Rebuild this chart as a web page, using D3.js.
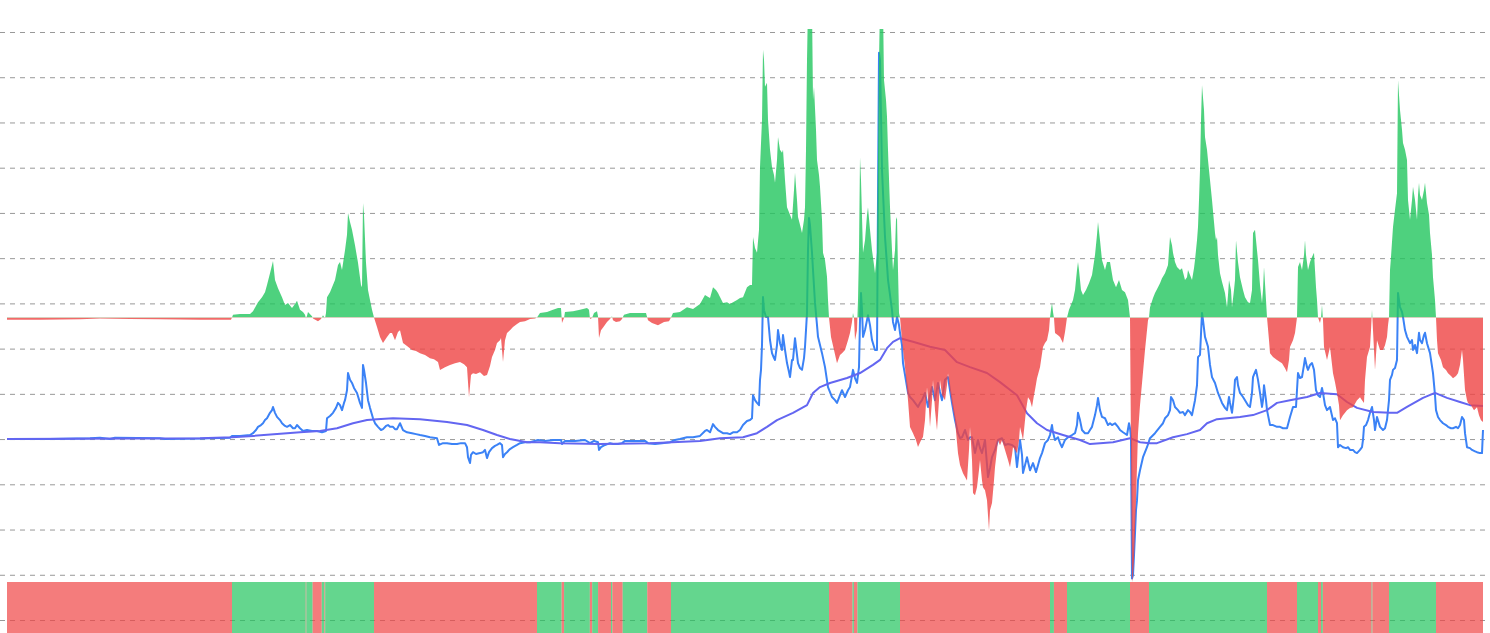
<!DOCTYPE html>
<html><head><meta charset="utf-8">
<script src="https://cdn.jsdelivr.net/npm/d3@7"></script>
<style>html,body{margin:0;padding:0;background:#fff;overflow:hidden}</style>
</head><body>
<svg id="chart" width="1490" height="633"></svg>
<script>
// time index (t) and oscillator value (grid units)
const oscillator = [
[7,-0.05],[40,-0.05],[80,-0.04],[100,-0.02],[130,-0.03],[160,-0.04],[200,-0.05],[231,-0.05],[232,0],[233,0.06],[240,0.08],[250,0.08],[253,0.14],[258,0.34],[262,0.45],[265,0.56],[267,0.72],[270,0.98],[273,1.25],[275,0.83],[278,0.65],[282,0.45],[285,0.28],[288,0.32],[292,0.21],[295,0.30],[297,0.37],[300,0.17],[303,0.12],[305,0.06],[306,-0.02],[307,0.04],[308,0.12],[312,0.03],[313,-0.02],[318,-0.08],[321,-0.03],[323,0.05],[325,-0.02],[326,0.1],[327,0.45],[330,0.56],[335,0.83],[338,1.16],[340,1.23],[342,1.05],[345,1.49],[347,1.83],[348,2.31],[350,2.11],[352,1.94],[355,1.60],[358,1.21],[361,0.72],[362,0.67],[363,2.53],[364,2.27],[366,1.21],[368,0.61],[370,0.39],[372,0.17],[374,0],
[377,-0.21],[380,-0.43],[383,-0.56],[387,-0.43],[390,-0.34],[392,-0.34],[395,-0.50],[398,-0.32],[400,-0.28],[403,-0.56],[407,-0.63],[412,-0.72],[416,-0.74],[420,-0.79],[425,-0.83],[430,-0.90],[434,-0.92],[438,-0.98],[440,-1.16],[445,-1.10],[450,-1.05],[455,-1.01],[460,-0.98],[464,-1.03],[467,-1.10],[469,-1.76],[471,-1.27],[473,-1.23],[476,-1.25],[480,-1.21],[484,-1.29],[487,-1.27],[490,-1.07],[492,-0.87],[495,-0.72],[497,-0.56],[500,-0.50],[501,-0.45],[503,-0.98],[505,-0.50],[507,-0.34],[510,-0.28],[513,-0.21],[517,-0.14],[520,-0.10],[525,-0.08],[530,-0.03],[535,-0.02],[537,0],
[540,0.10],[547,0.12],[553,0.17],[558,0.21],[561,0.21],[562,-0.12],[564,-0.01],[565,0.12],[573,0.14],[580,0.17],[587,0.21],[589,0.17],[590,-0.03],[592,-0.01],[594,0.10],[597,0.14],[598,0.03],[599,-0.45],[601,-0.28],[604,-0.19],[607,-0.10],[610,-0.03],[612,0.03],[613,-0.06],[616,-0.10],[620,-0.08],[622,-0.03],[624,0.06],[630,0.10],[640,0.10],[646,0.10],[648,-0.06],[652,-0.12],[658,-0.17],[664,-0.10],[669,-0.08],[671,0],
[673,0.10],[680,0.12],[687,0.23],[693,0.19],[700,0.30],[705,0.50],[707,0.47],[710,0.43],[713,0.67],[716,0.61],[718,0.54],[723,0.32],[727,0.34],[730,0.30],[733,0.34],[737,0.39],[740,0.43],[743,0.45],[747,0.67],[750,0.72],[752,0.72],[753,1.78],[755,1.54],[757,1.43],[759,1.94],[760,3.33],[762,4.37],[763,5.92],[764,5.70],[765,5.10],[767,5.19],[768,4.37],[770,3.71],[772,3.33],[774,3.15],[775,2.98],[777,3.48],[778,3.99],[780,3.71],[782,3.64],[783,3.71],[785,3.04],[787,2.44],[790,2.27],[792,2.16],[794,2.82],[795,3.20],[797,2.60],[798,2.22],[800,2.05],[802,1.87],[804,2.16],[805,2.44],[806,3.71],[807,5.70],[808,6.9],[810,6.9],[812,6.9],[813,4.81],[814,5.10],[816,4.15],[817,3.48],[819,3.15],[820,2.89],[822,2.16],[823,1.43],[825,1.27],[827,0.90],[828,0.39],[829,0],
[831,-0.43],[834,-0.72],[837,-1.01],[840,-0.83],[842,-0.79],[845,-0.72],[848,-0.50],[850,-0.34],[852,-0.10],[853,0.10],[854,-0.01],[855,-0.50],[857,-0.28],[858,0.39],[859,1.49],[860,3.55],[861,3.04],[863,1.43],[865,1.71],[867,2.27],[868,2.44],[870,1.94],[872,1.49],[874,1.16],[875,0.98],[877,1.43],[879,5.70],[880,6.9],[883,6.9],[884,5.25],[886,4.81],[887,4.44],[888,3.71],[890,2.44],[892,1.49],[893,1.05],[895,1.49],[896,2.16],[897,2.22],[898,1.05],[899,0.10],[900,0],
[902,-0.50],[905,-1.10],[908,-1.83],[910,-2.42],[913,-2.56],[916,-2.71],[918,-2.86],[921,-2.71],[923,-2.64],[925,-2.27],[927,-1.54],[929,-2.05],[930,-2.42],[932,-1.83],[933,-1.38],[935,-2.05],[937,-2.49],[939,-1.83],[940,-1.38],[942,-1.71],[945,-1.83],[947,-1.49],[948,-1.23],[950,-1.60],[952,-1.89],[955,-2.27],[958,-3.00],[960,-3.26],[963,-3.44],[967,-3.60],[969,-2.93],[970,-2.42],[972,-3.15],[973,-3.88],[975,-3.93],[977,-3.75],[979,-3.37],[980,-3.15],[982,-3.60],[983,-3.75],[985,-3.82],[987,-4.04],[989,-4.70],[990,-4.26],[992,-4.10],[994,-3.60],[995,-3.31],[997,-2.93],[998,-2.71],[1000,-2.82],[1002,-2.71],[1005,-2.93],[1008,-3.15],[1010,-3.31],[1012,-3.04],[1013,-2.86],[1015,-2.93],[1017,-3.00],[1019,-2.71],[1020,-2.42],[1022,-2.60],[1023,-2.71],[1025,-2.27],[1026,-2.05],[1028,-1.76],[1030,-1.83],[1032,-1.98],[1034,-1.71],[1035,-1.60],[1037,-1.34],[1040,-1.10],[1043,-0.65],[1045,-0.56],[1047,-0.50],[1049,-0.28],[1050,0],
[1051,0.17],[1052,0.32],[1053,0.12],[1054,-0.01],[1055,-0.34],[1058,-0.39],[1060,-0.43],[1063,-0.56],[1065,-0.32],[1067,0],
[1069,0.17],[1070,0.23],[1073,0.39],[1075,0.61],[1077,1.05],[1078,1.23],[1079,1.05],[1081,0.61],[1083,0.50],[1086,0.61],[1089,0.76],[1092,0.94],[1095,1.38],[1097,1.83],[1098,2.11],[1100,1.71],[1102,1.27],[1105,1.05],[1107,1.23],[1110,1.23],[1113,0.83],[1116,0.67],[1119,0.83],[1122,0.61],[1125,0.56],[1128,0.39],[1130,0],
[1132,-5.85],[1133,-5.70],[1134,-5.36],[1135,-4.70],[1136,-4.04],[1138,-2.56],[1140,-1.94],[1142,-1.45],[1145,-0.72],[1147,-0.28],[1148,-0.06],[1149,0],
[1150,0.23],[1153,0.43],[1155,0.54],[1158,0.67],[1160,0.76],[1162,0.87],[1165,0.98],[1168,1.16],[1170,1.78],[1172,1.60],[1173,1.43],[1175,1.23],[1177,1.12],[1180,1.05],[1182,1.09],[1185,0.83],[1187,0.89],[1188,1.05],[1190,0.94],[1192,0.83],[1194,1.09],[1195,1.27],[1197,1.71],[1198,2.00],[1199,2.60],[1200,3.26],[1201,4.37],[1202,5.14],[1204,4.59],[1205,3.99],[1207,3.71],[1208,3.48],[1210,3.04],[1212,2.60],[1214,2.11],[1215,1.87],[1216,1.71],[1217,1.78],[1218,1.38],[1220,0.98],[1222,0.79],[1225,0.54],[1227,0.23],[1228,0.50],[1229,0.83],[1231,0.61],[1232,0.23],[1234,0.61],[1235,0.83],[1236,1.71],[1238,1.23],[1240,0.89],[1243,0.61],[1245,0.45],[1248,0.34],[1250,0.32],[1252,0.61],[1253,1.87],[1255,1.94],[1257,1.49],[1258,1.27],[1260,0.72],[1262,0.32],[1263,0.61],[1264,1.12],[1266,0.39],[1267,0],
[1269,-0.50],[1270,-0.79],[1273,-0.87],[1277,-0.94],[1280,-0.98],[1282,-1.01],[1285,-1.12],[1287,-1.21],[1289,-0.94],[1290,-0.65],[1293,-0.50],[1295,-0.34],[1297,0],
[1298,1.12],[1300,1.23],[1302,1.05],[1304,1.38],[1305,1.71],[1306,1.38],[1308,1.05],[1310,1.23],[1312,1.34],[1314,1.43],[1315,1.05],[1316,0.67],[1317,0.39],[1318,0],
[1320,-0.12],[1321,-0.01],[1322,0.28],[1323,-0.06],[1324,-0.65],[1327,-0.94],[1330,-0.65],[1333,-1.23],[1335,-1.43],[1337,-1.67],[1339,-1.94],[1340,-2.27],[1343,-2.16],[1347,-2.05],[1350,-2.00],[1353,-1.98],[1357,-1.83],[1360,-1.76],[1362,-1.83],[1364,-1.89],[1365,-1.38],[1367,-0.87],[1370,-0.65],[1371,-0.28],[1372,0.17],[1373,-0.28],[1375,-1.16],[1376,-0.83],[1377,-0.50],[1380,-0.72],[1383,-0.72],[1385,-0.61],[1387,-0.43],[1388,-0.17],[1389,0],
[1390,1.05],[1391,1.34],[1393,2.00],[1395,2.38],[1397,2.75],[1398,5.25],[1399,4.92],[1400,4.59],[1402,4.15],[1403,3.86],[1405,3.71],[1407,3.48],[1408,2.60],[1410,2.16],[1412,2.60],[1413,2.89],[1415,2.60],[1417,2.16],[1418,2.71],[1419,2.98],[1420,2.71],[1422,2.60],[1424,2.82],[1425,2.98],[1427,2.53],[1429,2.27],[1430,1.87],[1432,1.38],[1433,0.89],[1435,0.39],[1436,0],
[1437,-0.50],[1438,-0.79],[1441,-0.94],[1443,-1.10],[1446,-1.16],[1448,-1.23],[1451,-1.29],[1453,-1.34],[1456,-1.29],[1458,-1.23],[1460,-1.05],[1462,-0.72],[1463,-0.94],[1465,-1.60],[1467,-1.83],[1468,-1.89],[1471,-1.94],[1474,-2.05],[1477,-1.98],[1479,-2.16],[1481,-2.27],[1483,-2.31]
];

// price line (grid units on the right-hand scale)
const price = [
[7,0],[50,0],[90,0.02],[100,0.03],[110,0],[115,0.03],[160,0.02],[165,0],[200,0.01],[230,0.03],[232,0.07],[240,0.07],[250,0.09],[253,0.13],[256,0.20],[258,0.27],[261,0.31],[263,0.35],[265,0.42],[267,0.46],[270,0.58],[272,0.64],[273,0.71],[275,0.58],[277,0.49],[280,0.42],[282,0.35],[285,0.29],[287,0.27],[290,0.31],[293,0.24],[295,0.24],[297,0.31],[300,0.24],[303,0.18],[307,0.20],[312,0.18],[317,0.18],[322,0.15],[326,0.18],[327,0.46],[330,0.51],[333,0.58],[336,0.69],[338,0.80],[340,0.75],[342,0.64],[344,0.80],[345,0.86],[347,1.08],[348,1.46],[350,1.31],[352,1.24],[354,1.13],[357,1.02],[360,0.80],[362,0.69],[363,1.64],[364,1.53],[366,1.24],[368,0.86],[370,0.69],[373,0.46],[375,0.35],[378,0.27],[381,0.20],[383,0.22],[386,0.29],[388,0.31],[390,0.27],[393,0.27],[395,0.22],[397,0.22],[400,0.35],[403,0.20],[407,0.15],[412,0.13],[416,0.11],[420,0.09],[425,0.07],[430,0.04],[437,0.02],[439,-0.13],[443,-0.09],[447,-0.09],[452,-0.11],[457,-0.11],[461,-0.09],[465,-0.09],[467,-0.18],[468,-0.40],[470,-0.53],[471,-0.35],[473,-0.29],[476,-0.33],[480,-0.31],[483,-0.29],[485,-0.24],[487,-0.42],[489,-0.29],[492,-0.20],[495,-0.15],[497,-0.13],[500,-0.09],[502,-0.13],[503,-0.40],[505,-0.33],[507,-0.29],[510,-0.22],[513,-0.18],[517,-0.13],[520,-0.09],[525,-0.07],[530,-0.07],[538,-0.02],[545,-0.04],[553,-0.02],[561,-0.02],[562,-0.11],[565,-0.04],[575,-0.04],[585,-0.02],[590,-0.09],[594,-0.04],[598,-0.07],[599,-0.24],[601,-0.18],[605,-0.13],[610,-0.09],[613,-0.11],[618,-0.11],[622,-0.09],[625,-0.04],[635,-0.04],[645,-0.04],[648,-0.09],[655,-0.11],[662,-0.09],[670,-0.07],[675,-0.02],[680,0],[687,0.04],[693,0.04],[700,0.07],[705,0.18],[707,0.20],[710,0.15],[713,0.33],[715,0.27],[718,0.20],[723,0.13],[727,0.13],[730,0.11],[733,0.15],[737,0.15],[740,0.20],[743,0.31],[747,0.40],[750,0.42],[752,0.46],[753,0.97],[755,0.86],[757,0.80],[759,0.75],[760,1.31],[761,1.53],[762,2.08],[763,3.14],[764,2.85],[766,2.70],[768,2.70],[770,2.19],[772,1.90],[774,1.79],[775,1.75],[777,2.08],[778,2.41],[780,2.12],[782,1.97],[783,2.30],[785,1.97],[787,1.68],[789,1.48],[790,1.37],[792,1.75],[793,1.75],[795,2.23],[797,1.86],[798,1.68],[800,1.57],[802,1.53],[804,1.79],[805,2.04],[806,2.41],[807,2.79],[808,4.18],[809,4.89],[810,4.73],[812,4.12],[813,3.74],[815,3.01],[817,2.52],[818,2.26],[820,2.08],[822,1.90],[825,1.59],[828,1.15],[830,1.04],[832,0.93],[835,0.86],[837,0.80],[840,0.97],[842,1.08],[845,0.93],[848,1.08],[850,1.15],[853,1.53],[855,1.35],[857,1.24],[859,1.59],[860,2.63],[861,3.23],[862,2.85],[863,2.26],[865,2.41],[867,2.63],[868,2.74],[870,2.52],[872,2.19],[874,2.04],[875,1.97],[877,1.97],[878,5.29],[879,8.54],[880,8.38],[882,5.95],[884,4.96],[885,4.47],[887,3.85],[888,3.52],[890,3.19],[892,2.85],[893,2.59],[895,2.41],[897,2.70],[899,2.52],[900,2.35],[902,2.08],[903,1.68],[905,1.42],[908,1.02],[910,0.93],[913,0.86],[915,0.80],[918,0.71],[920,0.80],[922,0.86],[925,1.02],[928,0.71],[930,0.97],[932,1.15],[935,0.86],[938,1.24],[940,1.04],[942,0.86],[945,1.31],[948,1.37],[950,1.08],[952,0.80],[955,0.42],[958,0.13],[960,0.02],[962,0.04],[965,0.20],[968,-0.02],[970,0.04],[972,0.04],[975,-0.31],[978,-0.02],[980,-0.20],[982,-0.31],[985,-0.02],[988,-0.84],[990,-0.64],[992,-0.40],[995,-0.24],[998,-0.02],[1002,0.02],[1005,-0.13],[1008,-0.11],[1012,-0.13],[1015,-0.18],[1017,-0.62],[1020,-0.02],[1022,-0.35],[1023,-0.75],[1025,-0.58],[1027,-0.40],[1030,-0.69],[1033,-0.53],[1036,-0.73],[1038,-0.58],[1040,-0.42],[1042,-0.31],[1045,-0.09],[1048,-0.02],[1050,0.09],[1052,0.31],[1053,0.15],[1055,-0.02],[1058,0.04],[1060,-0.09],[1062,-0.18],[1065,-0.02],[1068,0.04],[1072,0.09],[1075,0.13],[1077,0.31],[1078,0.58],[1080,0.42],[1082,0.20],[1085,0.13],[1088,0.13],[1090,0.20],[1092,0.27],[1095,0.53],[1097,0.75],[1098,0.91],[1100,0.64],[1102,0.49],[1105,0.46],[1108,0.31],[1110,0.35],[1112,0.31],[1115,0.35],[1118,0.27],[1120,0.20],[1123,0.15],[1127,0.09],[1129,0.35],[1130,0.24],[1131,0.04],[1132,-3.08],[1133,-3.01],[1134,-2.57],[1135,-2.08],[1136,-1.57],[1137,-1.35],[1138,-0.91],[1140,-0.69],[1143,-0.40],[1147,-0.18],[1150,0.02],[1155,0.13],[1160,0.27],[1163,0.35],[1165,0.46],[1168,0.53],[1170,0.64],[1171,0.93],[1173,0.86],[1175,0.71],[1178,0.64],[1180,0.58],[1183,0.60],[1185,0.53],[1188,0.64],[1190,0.60],[1192,0.53],[1195,0.86],[1197,1.19],[1198,1.81],[1200,1.86],[1202,2.79],[1203,2.63],[1205,2.26],[1208,2.04],[1210,1.64],[1212,1.37],[1215,1.24],[1218,1.02],[1220,0.91],[1222,0.80],[1225,0.69],[1227,0.64],[1229,0.93],[1230,0.80],[1232,0.58],[1234,0.97],[1235,1.31],[1237,1.37],[1238,1.19],[1240,1.02],[1243,0.93],[1245,0.86],[1248,0.75],[1250,0.71],[1252,1.02],[1253,1.37],[1255,1.48],[1256,1.53],[1258,1.31],[1260,1.02],[1262,0.71],[1263,0.86],[1264,1.19],[1266,0.86],[1267,0.64],[1270,0.31],[1273,0.31],[1277,0.27],[1280,0.27],[1283,0.24],[1287,0.24],[1290,0.49],[1293,0.71],[1296,0.71],[1298,1.46],[1300,1.35],[1302,1.37],[1304,1.64],[1305,1.79],[1307,1.59],[1308,1.53],[1310,1.64],[1312,1.68],[1314,1.53],[1316,1.08],[1318,0.97],[1320,0.93],[1322,1.13],[1323,1.02],[1325,0.75],[1327,0.64],[1330,0.71],[1333,0.42],[1335,0.46],[1337,0.35],[1338,-0.18],[1340,-0.13],[1343,-0.18],[1346,-0.20],[1348,-0.18],[1350,-0.24],[1353,-0.24],[1355,-0.29],[1357,-0.31],[1360,-0.24],[1362,-0.18],[1363,-0.02],[1364,0.27],[1366,0.31],[1368,0.42],[1370,0.58],[1372,0.71],[1374,0.42],[1375,0.20],[1377,0.49],[1380,0.27],[1383,0.20],[1385,0.24],[1387,0.42],[1389,0.86],[1390,1.31],[1392,1.42],[1393,1.53],[1395,1.57],[1397,1.75],[1398,3.23],[1399,3.07],[1400,2.92],[1402,2.81],[1403,2.70],[1405,2.41],[1407,2.26],[1410,2.12],[1412,2.19],[1413,1.97],[1415,2.08],[1417,1.90],[1419,2.35],[1420,2.19],[1422,2.12],[1424,2.30],[1425,2.35],[1427,2.12],[1430,1.90],[1433,1.46],[1435,0.97],[1436,0.64],[1438,0.49],[1440,0.42],[1443,0.35],[1446,0.31],[1448,0.27],[1451,0.24],[1453,0.24],[1456,0.27],[1458,0.24],[1460,0.31],[1462,0.49],[1464,0.42],[1465,0.13],[1467,-0.18],[1470,-0.20],[1472,-0.24],[1475,-0.27],[1477,-0.29],[1480,-0.31],[1482,-0.31],[1483,0.20]
];

// long moving average of price
const movingAvg = [
[7,0],[200,0.02],[232,0.04],[253,0.07],[287,0.13],[300,0.15],[320,0.18],[337,0.24],[353,0.35],[367,0.42],[377,0.44],[393,0.46],[420,0.44],[447,0.38],[467,0.31],[483,0.20],[497,0.09],[510,0],[527,-0.07],[540,-0.07],[560,-0.09],[600,-0.11],[650,-0.09],[700,-0.04],[720,0.02],[743,0.04],[757,0.13],[767,0.27],[777,0.42],[793,0.58],[807,0.75],[813,1.02],[820,1.15],[830,1.24],[847,1.35],[860,1.46],[873,1.64],[880,1.75],[887,2.01],[893,2.15],[900,2.23],[913,2.15],[930,2.04],[945,1.97],[957,1.70],[970,1.59],[987,1.46],[1000,1.26],[1017,0.97],[1027,0.57],[1037,0.35],[1047,0.20],[1063,0.09],[1080,-0.02],[1090,-0.11],[1100,-0.09],[1113,-0.07],[1130,0.02],[1140,-0.07],[1150,-0.09],[1157,-0.09],[1173,0.04],[1187,0.11],[1200,0.20],[1207,0.35],[1217,0.44],[1240,0.49],[1253,0.53],[1267,0.64],[1277,0.80],[1290,0.86],[1307,0.93],[1320,1.02],[1337,0.99],[1347,0.82],[1357,0.69],[1373,0.60],[1390,0.58],[1397,0.58],[1407,0.71],[1423,0.91],[1435,1.02],[1447,0.91],[1460,0.82],[1470,0.75],[1483,0.73]
];

const gridTicks = [-4,-3,-2,-1,0,1,2,3,4,5,6,7,8,9];

const W = 1490, H = 633;
const svg = d3.select("#chart");
const x = d3.scaleLinear().domain([7, 1483]).range([7, 1483]);
const yOsc = d3.scaleLinear().domain([-6, 6.4]).range([589, 28]);
const yPrice = d3.scaleLinear().domain([-4, 9]).range([620, 32]);
const plotTop = 29, plotBottom = 582;

const defs = svg.append("defs");
defs.append("clipPath").attr("id","clipUp").append("rect")
  .attr("x",0).attr("y",plotTop).attr("width",W).attr("height",yOsc(0)-plotTop);
defs.append("clipPath").attr("id","clipDown").append("rect")
  .attr("x",0).attr("y",yOsc(0)).attr("width",W).attr("height",plotBottom-yOsc(0));
defs.append("clipPath").attr("id","clipPlot").append("rect")
  .attr("x",0).attr("y",plotTop).attr("width",W).attr("height",plotBottom-plotTop);

// grid from the price axis
const grid = svg.append("g").attr("transform","translate(0,0)")
  .call(d3.axisRight(yPrice).tickValues(gridTicks).tickSize(1486).tickFormat(""));
grid.select(".domain").remove();
grid.selectAll("line").attr("stroke","#999").attr("stroke-width",1).attr("stroke-dasharray","5,5");

// lines
const priceLine = d3.line().x(d=>x(d[0])).y(d=>yPrice(d[1]));
svg.append("path").datum(price).attr("clip-path","url(#clipPlot)")
  .attr("d",priceLine).attr("fill","none").attr("stroke","#3b82f6").attr("stroke-width",2).attr("stroke-linejoin","round");
svg.append("path").datum(movingAvg).attr("clip-path","url(#clipPlot)")
  .attr("d",priceLine).attr("fill","none").attr("stroke","#6366f1").attr("stroke-width",2).attr("stroke-linejoin","round");

// oscillator area
const area = d3.area().x(d=>x(d[0])).y0(yOsc(0)).y1(d=>yOsc(d[1]));
svg.append("path").datum(oscillator).attr("clip-path","url(#clipUp)")
  .attr("d",area).attr("fill","#22c55e").attr("fill-opacity",0.8);
svg.append("path").datum(oscillator).attr("clip-path","url(#clipDown)")
  .attr("d",area).attr("fill","#ef4444").attr("fill-opacity",0.8);

// regime strip from sign of oscillator
const segs = [];
let start = oscillator[0][0], pos = oscillator[0][1] >= 0;
for (let i = 1; i < oscillator.length; i++) {
  const [t0,v0] = oscillator[i-1], [t1,v1] = oscillator[i];
  const s = v1 >= 0;
  if (s !== pos) {
    const tc = v1 === v0 ? t1 : t0 + (0 - v0) * (t1 - t0) / (v1 - v0);
    segs.push({a:start, b:tc, pos});
    start = tc; pos = s;
  }
}
segs.push({a:start, b:oscillator[oscillator.length-1][0], pos});
svg.append("g").selectAll("rect").data(segs).join("rect")
  .attr("x",d=>x(d.a)).attr("width",d=>Math.max(0,x(d.b)-x(d.a)))
  .attr("y",plotBottom).attr("height",H-plotBottom+10)
  .attr("fill",d=>d.pos?"#22c55e":"#ef4444").attr("fill-opacity",0.7);
</script>
</body></html>
